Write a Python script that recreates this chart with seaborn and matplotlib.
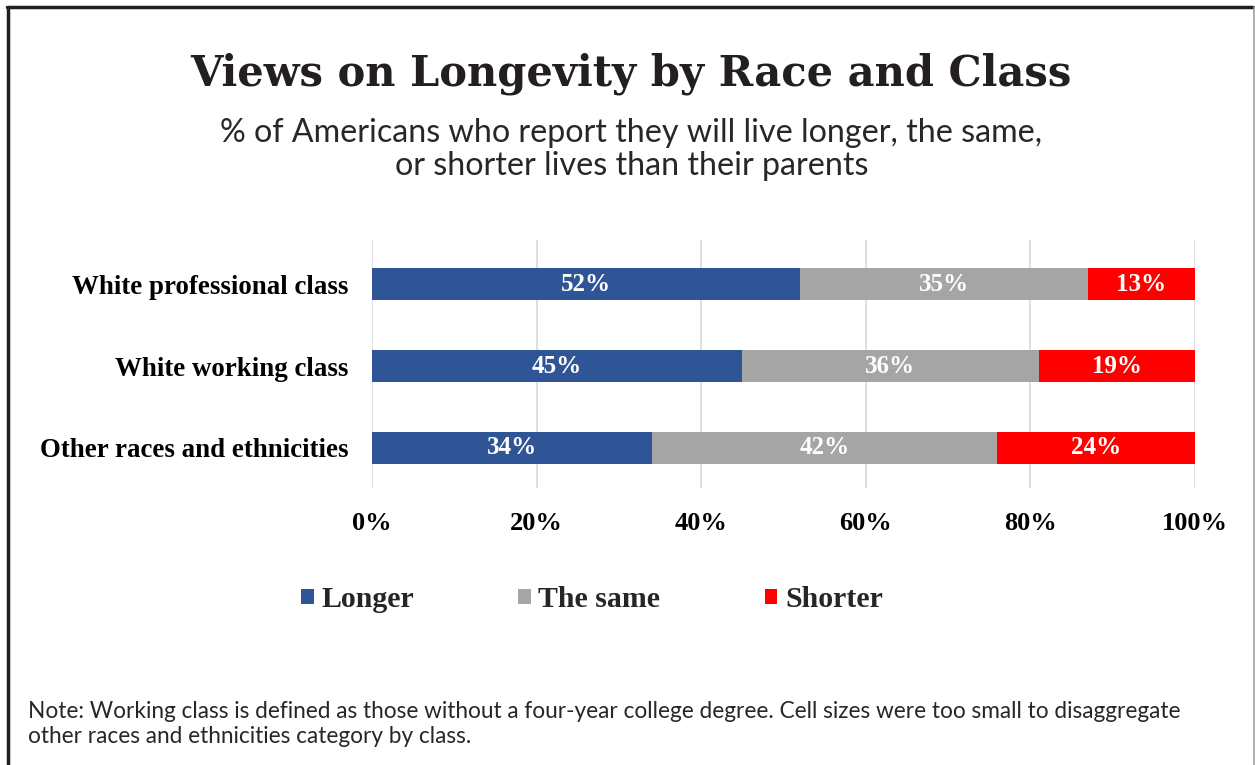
import matplotlib
matplotlib.use("Agg")
import matplotlib.pyplot as plt
import seaborn as sns
import pandas as pd
from matplotlib.lines import Line2D
from matplotlib.patches import Patch

groups = ["White professional class", "White working class", "Other races and ethnicities"]
longer = [52, 45, 34]
same = [35, 36, 42]
shorter = [13, 19, 24]
series_names = ["Longer", "The same", "Shorter"]
series_colors = ["#2F5597", "#A5A5A5", "#FF0000"]
x_ticks = [0, 20, 40, 60, 80, 100]
x_ticklabels = ["0%", "20%", "40%", "60%", "80%", "100%"]

sns.set_theme(style="white")
plt.rcParams["font.family"] = ["Liberation Serif", "DejaVu Serif"]

fig = plt.figure(figsize=(12.55, 7.65), dpi=100)
ax = fig.add_axes([0.2964, 0.3621, 0.6558, 0.3242])

df = pd.DataFrame({"group": groups, "Longer": longer, "The same": same, "Shorter": shorter})
df["cum_same"] = df["Longer"] + df["The same"]
df["cum_all"] = df["cum_same"] + df["Shorter"]

# Stacked bars drawn back to front from cumulative totals
bar_w = 0.39
for col, color in [("cum_all", series_colors[2]), ("cum_same", series_colors[1]), ("Longer", series_colors[0])]:
    sns.barplot(data=df, y="group", x=col, color=color, width=bar_w, ax=ax,
                saturation=1, linewidth=0, order=groups)

# Segment value labels
for i, g in enumerate(groups):
    starts = [0, longer[i], longer[i] + same[i]]
    vals = [longer[i], same[i], shorter[i]]
    for s, v in zip(starts, vals):
        ax.text(s + v / 2, i, f"{v}%", ha="center", va="center", color="white",
                fontsize=18, fontweight="bold", family="Liberation Serif")

ax.set_xlim(0, 100)
ax.set_ylim(2.49, -0.54)
ax.set_xticks(x_ticks)
ax.set_xticklabels(x_ticklabels, fontsize=19, fontweight="bold", color="black")
ax.tick_params(axis="x", length=0, pad=17)
ax.tick_params(axis="y", length=0, pad=17)
for lbl in ax.get_yticklabels():
    lbl.set_fontsize(19.4)
    lbl.set_fontweight("bold")
    lbl.set_color("black")
ax.set_xlabel("")
ax.set_ylabel("")
ax.xaxis.grid(True, color="#D9D9D9", linewidth=1.2)
ax.set_axisbelow(True)
for sp in ax.spines.values():
    sp.set_visible(False)

# Legend
handles = [Patch(facecolor=c, edgecolor="none") for c in series_colors]
leg = fig.legend(handles, series_names, loc="center", bbox_to_anchor=(0.4717, 0.216),
                 ncol=3, frameon=False, handlelength=0.42, handleheight=0.42,
                 handletextpad=0.25, columnspacing=3.5,
                 prop={"family": "Liberation Serif", "weight": "bold", "size": 21.5})

# Title, subtitle, note
fig.text(0.503, 0.904, "Views on Longevity by Race and Class", ha="center", va="center",
         fontsize=30, fontweight="bold", family="DejaVu Serif", color="#231F20")
fig.text(0.503, 0.805, "% of Americans who report they will live longer, the same,\nor shorter lives than their parents",
         ha="center", va="center", fontsize=23.2, family="Lato", fontweight="normal",
         color="#2A2627", linespacing=1.12)
fig.text(0.0223, 0.054, "Note: Working class is defined as those without a four-year college degree. Cell sizes were too small to disaggregate\nother races and ethnicities category by class.",
         ha="left", va="center", fontsize=16.25, family="Lato", fontweight="normal",
         color="#2A2627", linespacing=1.25)

# Frame around the graphic
fig.add_artist(Line2D([7 / 1255, 1253 / 1255], [1 - 7 / 765, 1 - 7 / 765], color="#231F20", linewidth=2.5))
fig.add_artist(Line2D([8 / 1255, 8 / 1255], [0, 1 - 7 / 765], color="#231F20", linewidth=2.5))
fig.add_artist(Line2D([1253.5 / 1255, 1253.5 / 1255], [0, 1 - 7 / 765], color="#A0A0A0", linewidth=1.2))

fig.savefig("out.png", dpi=100, facecolor="white")
